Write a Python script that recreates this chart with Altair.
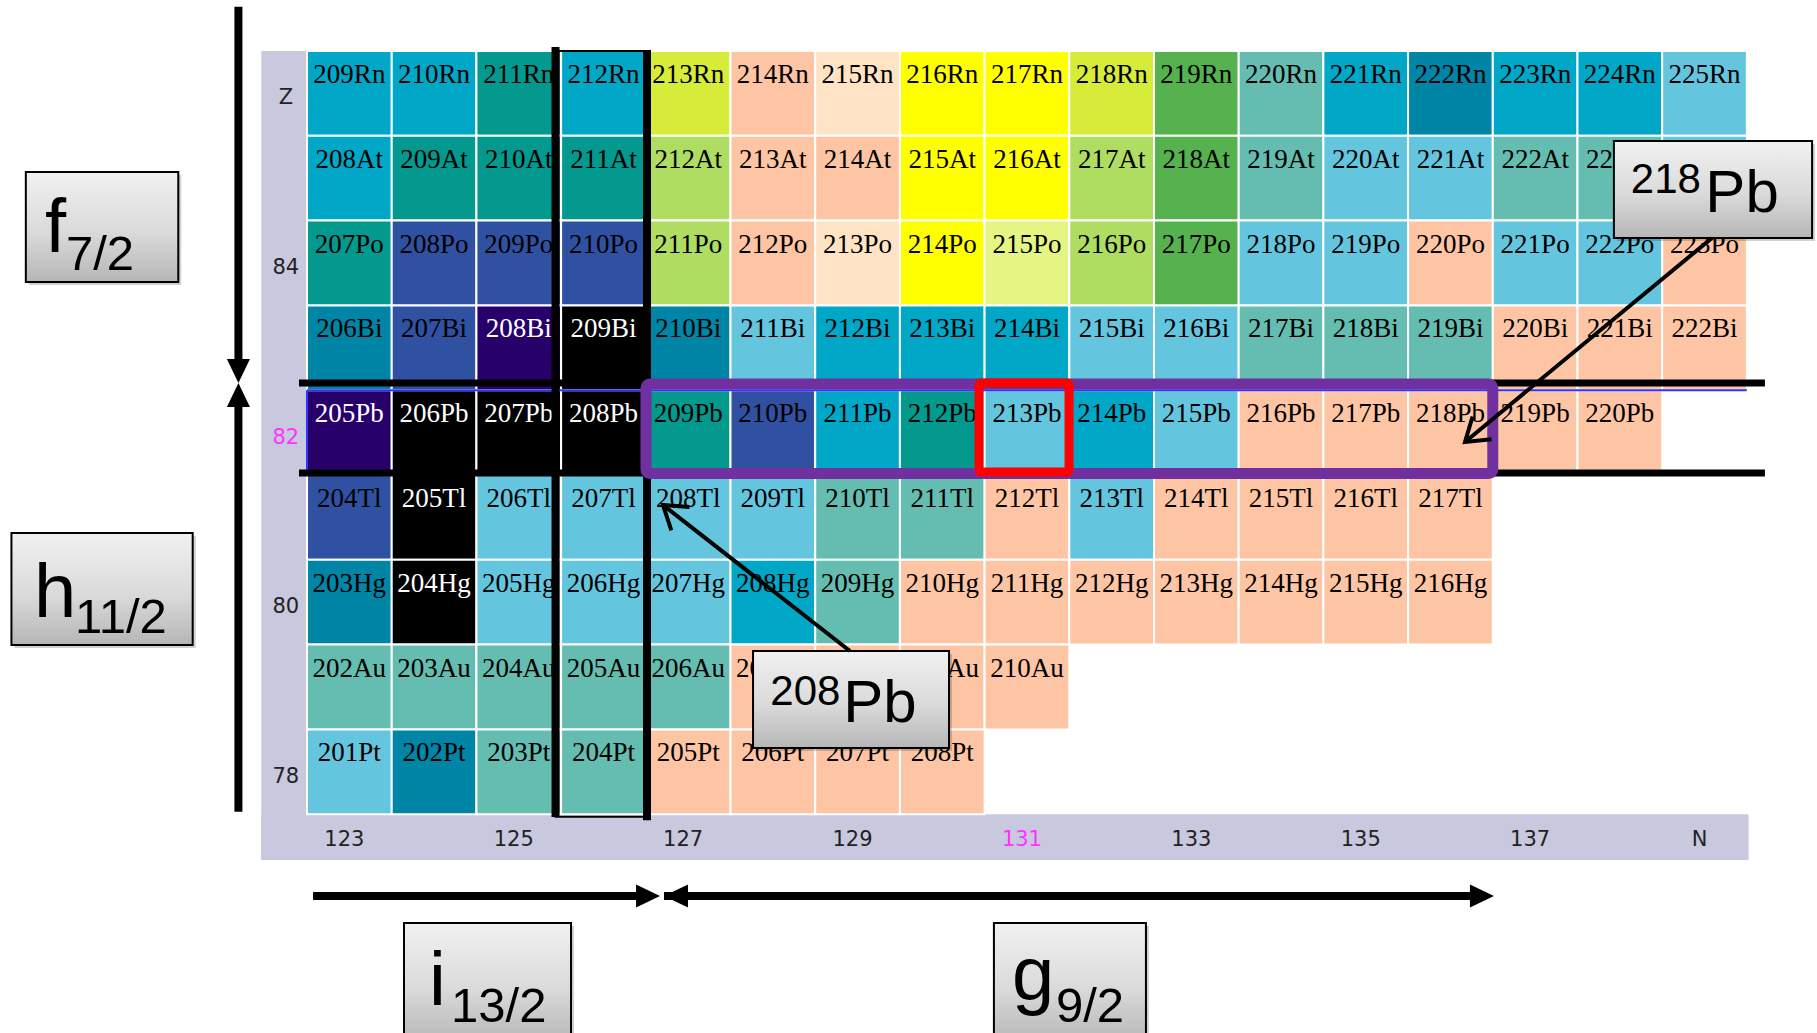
import math
import altair as alt
import pandas as pd

# ---------------- nuclide chart data ----------------
N_FIRST = 123  # neutron number of the first column of every row
SYMBOLS = {86: "Rn", 85: "At", 84: "Po", 83: "Bi", 82: "Pb", 81: "Tl", 80: "Hg", 79: "Au", 78: "Pt"}

# half-life class of each nuclide, one list per element, starting at N = 123
RN_CLASS = ["cy", "cy", "tl", "cy", "yg", "pe", "cr", "ye", "ye", "yg", "gr", "lt", "cy", "dc", "cy", "cy", "lc"]
AT_CLASS = ["cy", "tl", "tl", "tl", "lg", "pe", "pe", "ye", "ye", "lg", "gr", "lt", "lc", "lc", "lt", "lt", "lc"]
PO_CLASS = ["tl", "bl", "bl", "bl", "lg", "pe", "cr", "ye", "py", "lg", "gr", "lc", "lc", "pe", "lc", "lc", "pe"]
BI_CLASS = ["dc", "bl", "pu", "bk", "dc", "lc", "cy", "cy", "cy", "lc", "lc", "lt", "lt", "lt", "pe", "pe", "pe"]
PB_CLASS = ["pu", "bk", "bk", "bk", "tl", "bl", "cy", "tl", "lc", "cy", "lc", "pe", "pe", "pe", "pe", "pe"]
TL_CLASS = ["bl", "bk", "lc", "lc", "lc", "lc", "lt", "lt", "pe", "lc", "pe", "pe", "pe", "pe"]
HG_CLASS = ["dc", "bk", "lc", "lc", "lc", "cy", "lt", "pe", "pe", "pe", "pe", "pe", "pe", "pe"]
AU_CLASS = ["lt", "lt", "lt", "lt", "lt", "pe", "pe", "pe", "pe"]
PT_CLASS = ["lc", "dc", "lt", "lt", "pe", "pe", "pe", "pe"]

ROWS = {86: RN_CLASS, 85: AT_CLASS, 84: PO_CLASS, 83: BI_CLASS, 82: PB_CLASS,
        81: TL_CLASS, 80: HG_CLASS, 79: AU_CLASS, 78: PT_CLASS}

CLASS_KEYS = ["cy", "tl", "lt", "lc", "dc", "bl", "pu", "bk", "yg", "lg", "ye", "py", "gr", "pe", "cr"]
CLASS_HEX = ["#00a7c7", "#03998e", "#64bdb0", "#64c5de", "#0085a6", "#3051a1", "#28006a", "#000000",
             "#d7ec39", "#aedd62", "#ffff00", "#e5f584", "#55b24f", "#fec5a4", "#fee4c5"]

# nuclides printed in white on their dark cells
WHITE_LABELS = ["205Pb", "206Pb", "207Pb", "208Pb", "208Bi", "209Bi", "205Tl", "204Hg"]

# axis labels
N_TICKS = [123, 125, 127, 129, 131, 133, 135, 137, 139]
N_TICK_TEXT = ["123", "125", "127", "129", "131", "133", "135", "137", "N"]
Z_TICKS = [86, 84, 82, 80, 78]
Z_TICK_TEXT = ["Z", "84", "82", "80", "78"]
MAGIC_N = 131
MAGIC_Z = 82

# ---------------- annotations (in N / Z units) ----------------
BOX_N0 = [119.18, 119.01, 123.645, 130.61, 127.766, 137.93]
BOX_N1 = [120.98, 121.15, 125.617, 132.405, 130.08, 140.27]
BOX_Z0 = [83.775, 79.495, 74.80, 74.80, 78.28, 84.295]
BOX_Z1 = [85.073, 80.815, 76.217, 76.217, 79.425, 85.439]

BIG_TEXT = ["f", "h", "i", "g", "Pb", "Pb"]
BIG_SIZE = [76, 76, 76, 76, 60, 60]
BIG_N = [119.407, 119.277, 123.94, 130.823, 128.83, 139.01]
BIG_Z = [84.13, 79.825, 75.25, 75.31, 78.587, 84.601]

SMALL_TEXT = ["7/2", "11/2", "13/2", "9/2", "208", "218"]
SMALL_SIZE = [49, 49, 49, 49, 42, 42]
SMALL_N = [119.654, 119.761, 124.20, 131.343, 127.97, 138.13]
SMALL_Z = [83.917, 79.637, 75.05, 75.05, 78.788, 84.825]

POINTER_FROM_N = [128.91, 139.088]
POINTER_FROM_Z = [79.425, 84.295]
POINTER_TO_N = [126.703, 136.172]
POINTER_TO_Z = [81.146, 81.889]

SHELL_V_N = 121.69          # vertical proton-shell arrows
SHELL_V_TAIL_Z = [87.02, 77.53]
SHELL_V_TIP_Z = 82.585
SHELL_H_Z = 76.535          # horizontal neutron-shell arrows
SHELL_H_TAIL_N = [122.571, 126.715]
SHELL_H_TIP_N = [126.668, 136.514]

# ---------------- canvas / scales ----------------
W, H = 1817, 1033
X_DOMAIN = [118.875, 140.328]
Y_DOMAIN = [74.92, 87.101]
PX_N = W / (X_DOMAIN[1] - X_DOMAIN[0])
PX_Z = H / (Y_DOMAIN[1] - Y_DOMAIN[0])
XS = alt.Scale(domain=X_DOMAIN, nice=False, zero=False)
YS = alt.Scale(domain=Y_DOMAIN, nice=False, zero=False)


def xq(field):
    return alt.X(f"{field}:Q", scale=XS, axis=None)


def yq(field):
    return alt.Y(f"{field}:Q", scale=YS, axis=None)


def screen_angle(dn, dz):
    """Clockwise rotation (deg) turning a downward-pointing head toward (dn, dz)."""
    dx, dy = dn * PX_N, -dz * PX_Z
    return math.degrees(math.atan2(-dx, dy)) % 360


# ---------------- tables ----------------
cell_rows = []
for z, classes in ROWS.items():
    for i, c in enumerate(classes):
        n = N_FIRST + i
        label = f"{z + n}{SYMBOLS[z]}"
        cell_rows.append({"n": n, "z": z, "n0": n - 0.5, "n1": n + 0.5, "z0": z - 0.5, "z1": z + 0.5,
                          "cls": c, "label": label,
                          "ink": "white" if label in WHITE_LABELS else "black"})
cells = pd.DataFrame(cell_rows)

n_min = N_FIRST - 0.5
n_max = max(N_FIRST + len(v) for v in ROWS.values()) - 0.5
z_top = max(ROWS) + 0.5
z_bot = min(ROWS) - 0.5

# L-shaped axis band: a strip left of the grid and one below it
panel = pd.DataFrame([
    {"n0": 121.96, "n1": n_min, "z0": 76.96, "z1": z_top},
    {"n0": 121.96, "n1": n_max + 0.02, "z0": 76.96, "z1": z_bot},
])

x_ticks = pd.DataFrame({"n": N_TICKS, "text": N_TICK_TEXT, "z": 77.2,
                        "col": ["#ff33ff" if v == MAGIC_N else "#222222" for v in N_TICKS]})
y_ticks = pd.DataFrame({"z": Z_TICKS, "text": Z_TICK_TEXT, "n": 122.25,
                        "col": ["#ff33ff" if v == MAGIC_Z else "#222222" for v in Z_TICKS]})

boxes = pd.DataFrame({"n0": BOX_N0, "n1": BOX_N1, "z0": BOX_Z0, "z1": BOX_Z1})
big = pd.DataFrame({"n": BIG_N, "z": BIG_Z, "text": BIG_TEXT, "size": BIG_SIZE})
small = pd.DataFrame({"n": SMALL_N, "z": SMALL_Z, "text": SMALL_TEXT, "size": SMALL_SIZE})

pointers = pd.DataFrame({"n0": POINTER_FROM_N, "z0": POINTER_FROM_Z, "n1": POINTER_TO_N, "z1": POINTER_TO_Z})
pointers["ang"] = [screen_angle(b - a, d - c) for a, b, c, d in
                   zip(POINTER_FROM_N, POINTER_TO_N, POINTER_FROM_Z, POINTER_TO_Z)]

HEAD_R = 24  # half of the symbol's bounding box, px
head_len_z = HEAD_R * 0.5 / PX_Z
head_len_n = HEAD_R * 0.5 / PX_N
v_shafts = pd.DataFrame({"n": SHELL_V_N, "z0": SHELL_V_TAIL_Z,
                         "z1": [SHELL_V_TIP_Z + head_len_z, SHELL_V_TIP_Z - head_len_z]})
h_shafts = pd.DataFrame({"z": SHELL_H_Z, "n0": SHELL_H_TAIL_N,
                         "n1": [SHELL_H_TIP_N[0] - head_len_n, SHELL_H_TIP_N[1] - head_len_n]})
heads = pd.DataFrame({
    "n": [SHELL_V_N, SHELL_V_N, SHELL_H_TIP_N[0], SHELL_H_TAIL_N[1], SHELL_H_TIP_N[1]],
    "z": [SHELL_V_TIP_Z, SHELL_V_TIP_Z, SHELL_H_Z, SHELL_H_Z, SHELL_H_Z],
    "ang": [screen_angle(0, -1), screen_angle(0, 1), screen_angle(1, 0), screen_angle(-1, 0), screen_angle(1, 0)],
})

magic_lines = pd.DataFrame({"n0": [122.405, 122.405], "n1": [139.713, 139.713], "z": [82.585, 81.524]})
blue_top = pd.DataFrame({"n0": [n_min], "n1": [n_max], "z": [82.5]})
blue_side = pd.DataFrame({"n": [n_min], "z0": [82.5], "z1": [81.55]})
col_frame = pd.DataFrame({"n0": [125.434], "n1": [126.514], "z0": [77.47], "z1": [z_top]})
col_lines = pd.DataFrame({"n": [125.434, 126.514], "z0": [77.467, 77.43], "z1": [86.547, 86.51]})
purple = pd.DataFrame({"n0": [126.502], "n1": [136.5], "z0": [81.518], "z1": [82.573]})
red = pd.DataFrame({"n0": [130.434], "n1": [131.497], "z0": [81.535], "z1": [82.585]})

# ---------------- layers ----------------
FILLED_HEAD = "M0,0L-0.48,-1L0.48,-1Z"
OPEN_HEAD = "M-0.57,-0.85L0,0L0.57,-0.85"

bg = alt.Chart(panel).mark_rect(fill="#c8c8df").encode(x=xq("n0"), x2="n1", y=yq("z0"), y2="z1")

cell_layer = alt.Chart(cells).mark_rect(stroke="white", strokeWidth=2).encode(
    x=xq("n0"), x2="n1", y=yq("z0"), y2="z1",
    color=alt.Color("cls:N", scale=alt.Scale(domain=CLASS_KEYS, range=CLASS_HEX), legend=None),
)
cell_text = alt.Chart(cells).mark_text(font="Liberation Serif", fontSize=27,
                                       baseline="alphabetic", align="center", dy=32).encode(
    x=xq("n"), y=yq("z1"), text="label:N", color=alt.Color("ink:N", scale=None))

blue1 = alt.Chart(blue_top).mark_rule(color="#3333ff", strokeWidth=2).encode(x=xq("n0"), x2="n1", y=yq("z"))
blue2 = alt.Chart(blue_side).mark_rule(color="#3333ff", strokeWidth=2).encode(x=xq("n"), y=yq("z0"), y2="z1")

frame = alt.Chart(col_frame).mark_rect(fillOpacity=0, stroke="black", strokeWidth=2).encode(
    x=xq("n0"), x2="n1", y=yq("z0"), y2="z1")
frame_lines = alt.Chart(col_lines).mark_rule(color="black", strokeWidth=8).encode(
    x=xq("n"), y=yq("z0"), y2="z1")
hlines = alt.Chart(magic_lines).mark_rule(color="black", strokeWidth=7).encode(
    x=xq("n0"), x2="n1", y=yq("z"))

purple_box = alt.Chart(purple).mark_rect(fillOpacity=0, stroke="#7030a0", strokeWidth=11, cornerRadius=4).encode(
    x=xq("n0"), x2="n1", y=yq("z0"), y2="z1")
red_box = alt.Chart(red).mark_rect(fillOpacity=0, stroke="#ff0000", strokeWidth=9, cornerRadius=2).encode(
    x=xq("n0"), x2="n1", y=yq("z0"), y2="z1")

xt = alt.Chart(x_ticks).mark_text(font="DejaVu Sans", fontSize=21, baseline="middle", dx=-5).encode(
    x=xq("n"), y=yq("z"), text="text:N", color=alt.Color("col:N", scale=None))
yt = alt.Chart(y_ticks).mark_text(font="DejaVu Sans", fontSize=21, baseline="middle", dy=5).encode(
    x=xq("n"), y=yq("z"), text="text:N", color=alt.Color("col:N", scale=None))

v_shaft_layer = alt.Chart(v_shafts).mark_rule(color="black", strokeWidth=8, strokeCap="butt").encode(
    x=xq("n"), y=yq("z0"), y2="z1")
h_shaft_layer = alt.Chart(h_shafts).mark_rule(color="black", strokeWidth=8, strokeCap="butt").encode(
    x=xq("n0"), x2="n1", y=yq("z"))
head_layer = alt.Chart(heads).mark_point(shape=FILLED_HEAD, filled=True, color="black", opacity=1,
                                         size=(2 * HEAD_R) ** 2).encode(
    x=xq("n"), y=yq("z"), angle=alt.Angle("ang:Q", scale=None))

box_fill = alt.Gradient(gradient="linear", x1=0, x2=0, y1=0, y2=1,
                        stops=[alt.GradientStop(offset=0, color="#f1f1f1"),
                               alt.GradientStop(offset=0.55, color="#dadada"),
                               alt.GradientStop(offset=1, color="#b6b6b6")])
shadow = alt.Chart(boxes).mark_rect(fill="black", opacity=0.18, xOffset=3, x2Offset=3, yOffset=3,
                                    y2Offset=3).encode(x=xq("n0"), x2="n1", y=yq("z0"), y2="z1")
box_layer = alt.Chart(boxes).mark_rect(fill=box_fill, stroke="black", strokeWidth=2).encode(
    x=xq("n0"), x2="n1", y=yq("z0"), y2="z1")
big_text = alt.Chart(big).mark_text(font="Liberation Sans", align="left", baseline="alphabetic",
                                    color="black").encode(
    x=xq("n"), y=yq("z"), text="text:N", size=alt.Size("size:Q", scale=None))
small_text = alt.Chart(small).mark_text(font="Liberation Sans", align="left", baseline="alphabetic",
                                        color="black").encode(
    x=xq("n"), y=yq("z"), text="text:N", size=alt.Size("size:Q", scale=None))

pointer_lines = alt.Chart(pointers).mark_rule(color="black", strokeWidth=4).encode(
    x=xq("n0"), x2="n1", y=yq("z0"), y2="z1")
pointer_heads = alt.Chart(pointers).mark_point(shape=OPEN_HEAD, filled=False, color="black", opacity=1,
                                               strokeWidth=4, size=(2 * 26) ** 2).encode(
    x=xq("n1"), y=yq("z1"), angle=alt.Angle("ang:Q", scale=None))

chart = alt.layer(
    bg, cell_layer, cell_text, blue1, blue2, frame, frame_lines, hlines, purple_box, red_box,
    xt, yt, v_shaft_layer, h_shaft_layer, head_layer,
    shadow, box_layer, big_text, small_text, pointer_lines, pointer_heads,
).properties(
    width=W, height=H, padding=0, autosize=alt.AutoSizeParams(type="none"), background="white"
).configure_view(stroke=None)

chart.save("out.html", embed_options={"renderer": "svg", "actions": False})
